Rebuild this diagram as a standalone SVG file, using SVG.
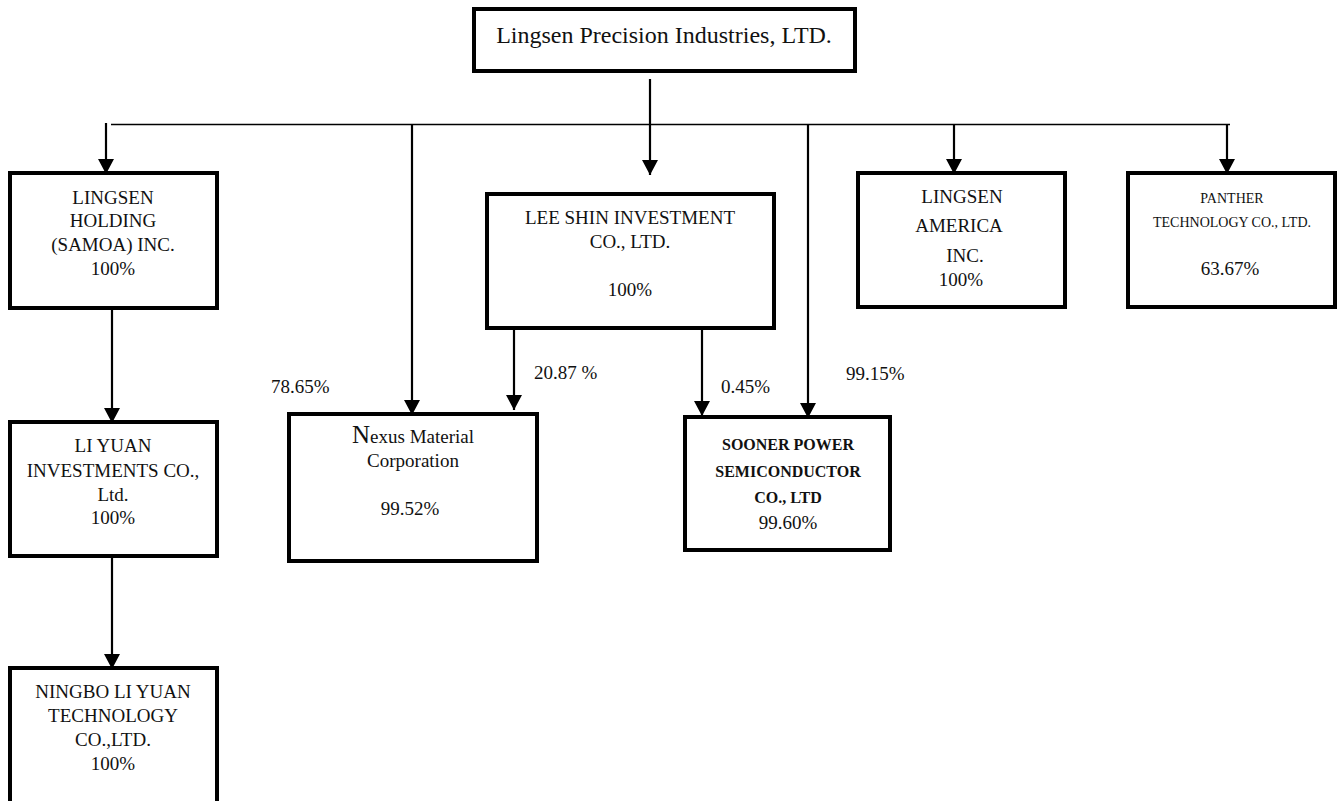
<svg xmlns="http://www.w3.org/2000/svg" width="1343" height="801" viewBox="0 0 1343 801">
<style>
  .box { fill: #ffffff; stroke: #000000; stroke-width: 4; }
  .t { font-family: "Liberation Serif", "Times New Roman", serif; font-size: 19px; fill: #111111; text-anchor: middle; }
  .s { font-size: 14px; }
  .b { font-size: 16px; font-weight: bold; }
  .lbl { font-family: "Liberation Serif", "Times New Roman", serif; font-size: 19px; fill: #111111; }
  .ln { stroke: #000000; stroke-width: 2.2; fill: none; }
  .bus { stroke: #000000; stroke-width: 1.6; fill: none; }
  .arr { stroke: #000000; stroke-width: 2.2; fill: none; marker-end: url(#ah); }
</style>
<defs>
  <marker id="ah" viewBox="0 0 15 16" refX="15" refY="8" markerWidth="15" markerHeight="16" markerUnits="userSpaceOnUse" orient="auto">
    <path d="M0,0 L15,8 L0,16 z" fill="#000000"/>
  </marker>
</defs>
<rect width="1343" height="801" fill="#ffffff"/>

<g id="connectors">
  <line class="ln" x1="650" y1="79" x2="650" y2="125"/>
  <line class="bus" x1="111" y1="124.5" x2="1230" y2="124.5"/>
  <line class="arr" x1="106" y1="123" x2="106" y2="174"/>
  <line class="arr" x1="412" y1="125" x2="412" y2="415"/>
  <line class="arr" x1="650" y1="125" x2="650" y2="175"/>
  <line class="arr" x1="808" y1="125" x2="808" y2="418"/>
  <line class="arr" x1="954" y1="125" x2="954" y2="174"/>
  <line class="arr" x1="1227" y1="125" x2="1227" y2="174"/>
  <line class="arr" x1="112" y1="310" x2="112" y2="423"/>
  <line class="arr" x1="112" y1="558" x2="112" y2="669"/>
  <line class="arr" x1="514" y1="330" x2="514" y2="410"/>
  <line class="arr" x1="702" y1="330" x2="702" y2="416"/>
  <text class="lbl" x="271" y="393">78.65%</text>
  <text class="lbl" x="534" y="379">20.87 %</text>
  <text class="lbl" x="721" y="393">0.45%</text>
  <text class="lbl" x="846" y="380">99.15%</text>
</g>

<g id="lingsen-precision">
  <rect class="box" x="474" y="9" width="381" height="62"/>
  <text class="t" x="664" y="43" style="font-size:24px">Lingsen Precision Industries, LTD.</text>
</g>

<g id="lingsen-holding">
  <rect class="box" x="10" y="173" width="207" height="135"/>
  <text class="t" x="113" y="204">LINGSEN</text>
  <text class="t" x="113" y="227">HOLDING</text>
  <text class="t" x="113" y="251">(SAMOA) INC.</text>
  <text class="t" x="113" y="275">100%</text>
</g>

<g id="li-yuan">
  <rect class="box" x="10" y="422" width="207" height="134"/>
  <text class="t" x="113" y="452">LI YUAN</text>
  <text class="t" x="113" y="477">INVESTMENTS CO.,</text>
  <text class="t" x="113" y="501">Ltd.</text>
  <text class="t" x="113" y="524">100%</text>
</g>

<g id="ningbo-li-yuan">
  <rect class="box" x="10" y="668" width="207" height="150"/>
  <text class="t" x="113" y="698">NINGBO LI YUAN</text>
  <text class="t" x="113" y="722">TECHNOLOGY</text>
  <text class="t" x="113" y="746">CO.,LTD.</text>
  <text class="t" x="113" y="770">100%</text>
</g>

<g id="lee-shin">
  <rect class="box" x="487" y="194" width="287" height="134"/>
  <text class="t" x="630" y="224">LEE SHIN INVESTMENT</text>
  <text class="t" x="630" y="248">CO., LTD.</text>
  <text class="t" x="630" y="296">100%</text>
</g>

<g id="nexus">
  <rect class="box" x="289" y="414" width="248" height="147"/>
  <text class="t" x="413" y="443"><tspan style="font-size:25px">N</tspan>exus Material</text>
  <text class="t" x="413" y="467">Corporation</text>
  <text class="t" x="410" y="515">99.52%</text>
</g>

<g id="sooner">
  <rect class="box" x="685" y="417" width="205" height="133"/>
  <text class="t b" x="788" y="450">SOONER POWER</text>
  <text class="t b" x="788" y="477">SEMICONDUCTOR</text>
  <text class="t b" x="788" y="503">CO., LTD</text>
  <text class="t" x="788" y="529">99.60%</text>
</g>

<g id="lingsen-america">
  <rect class="box" x="858" y="173" width="207" height="134"/>
  <text class="t" x="962" y="203">LINGSEN</text>
  <text class="t" x="959" y="232">AMERICA</text>
  <text class="t" x="965" y="262">INC.</text>
  <text class="t" x="961" y="286">100%</text>
</g>

<g id="panther">
  <rect class="box" x="1128" y="173" width="207" height="134"/>
  <text class="t s" x="1232" y="203">PANTHER</text>
  <text class="t s" x="1232" y="227">TECHNOLOGY CO., LTD.</text>
  <text class="t" x="1230" y="275">63.67%</text>
</g>
</svg>
